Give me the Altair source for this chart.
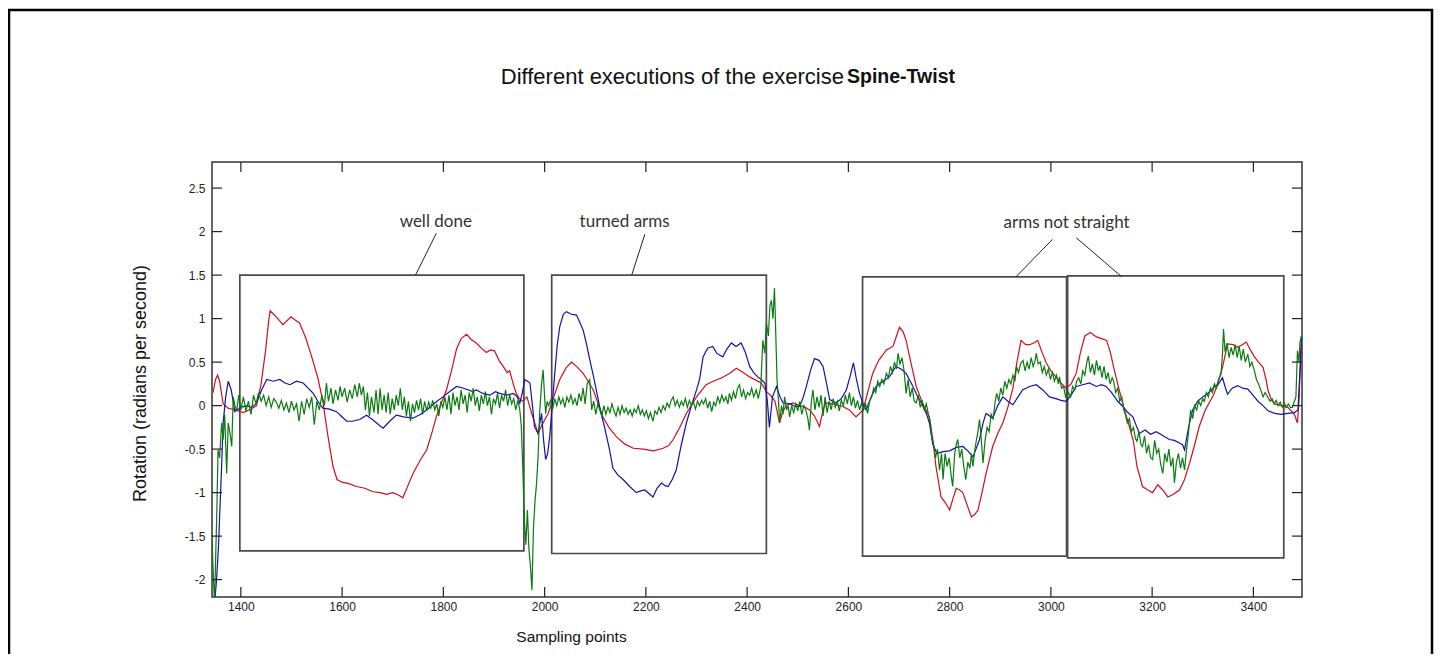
import altair as alt
import pandas as pd

# ---------------- data ----------------
red_x = [1345,1350,1354,1358,1365,1375,1390,1405,1420,1431,1440,1449,1455,1458,1470,1483,1499,1508,1516,1528,
         1540,1552,1562,1572,1582,1590,1600,1615,1628,1645,1661,1675,1688,1700,1712,1720,1730,1740,1755,1767,
         1778,1786,1796,1806,1816,1826,1835,1846,1855,1865,1875,1885,1893,1901,1910,1918,1926,1931,1938,1944,
         1950,1957,1965,1975,1987,1995,2007,2018,2030,2042,2053,2065,2076,2086,2096,2106,2115,2128,2142,2158,
         2175,2195,2215,2234,2245,2254,2267,2280,2300,2319,2333,2350,2365,2379,2392,2405,2418,2428,2438,2446,
         2455,2464,2470,2477,2490,2504,2515,2523,2533,2543,2550,2556,2570,2589,2602,2615,2629,2638,2648,2660,
         2675,2688,2695,2701,2708,2714,2724,2734,2747,2760,2767,2773,2783,2792,2800,2806,2813,2820,2826,2835,
         2843,2850,2856,2864,2872,2885,2895,2905,2915,2925,2933,2941,2950,2958,2966,2974,2982,2991,3000,3010,
         3020,3030,3040,3050,3058,3067,3078,3090,3100,3110,3118,3124,3134,3144,3153,3163,3170,3181,3191,3201,
         3211,3221,3231,3242,3254,3264,3274,3284,3293,3305,3322,3332,3339,3349,3360,3369,3378,3386,3394,3402,
         3410,3419,3425,3429,3436,3442,3455,3468,3481,3487,3490,3492,3495]
red_y = [0.15,0.30,0.35,0.28,0.02,-0.03,-0.05,-0.08,-0.04,0.00,0.25,0.64,0.98,1.09,1.02,0.93,1.02,0.98,0.95,0.78,
         0.56,0.32,0.05,-0.35,-0.70,-0.85,-0.88,-0.90,-0.93,-0.95,-0.99,-1.00,-1.02,-1.00,-1.03,-1.06,-0.92,-0.78,-0.62,-0.51,
         -0.30,-0.13,0.03,0.18,0.40,0.65,0.77,0.82,0.76,0.72,0.66,0.61,0.64,0.63,0.52,0.45,0.38,0.40,0.25,0.14,
         0.08,0.05,0.10,-0.10,-0.32,-0.22,-0.09,0.10,0.30,0.43,0.50,0.44,0.37,0.28,0.18,0.02,-0.13,-0.26,-0.36,-0.44,
         -0.49,-0.50,-0.52,-0.49,-0.46,-0.39,-0.25,-0.09,0.10,0.24,0.28,0.32,0.37,0.43,0.38,0.33,0.29,0.26,0.16,0.12,
         0.05,-0.20,-0.08,0.00,0.03,0.00,-0.02,-0.05,-0.12,-0.24,-0.05,0.03,0.02,-0.01,-0.05,-0.13,-0.05,0.15,0.37,0.52,
         0.64,0.68,0.80,0.90,0.85,0.75,0.48,0.22,0.02,-0.13,-0.40,-0.70,-1.05,-1.12,-1.20,-1.08,-0.95,-0.97,-1.00,-1.15,
         -1.28,-1.25,-1.20,-1.00,-0.78,-0.47,-0.32,-0.20,-0.02,0.20,0.50,0.75,0.70,0.70,0.72,0.75,0.62,0.49,0.40,0.33,
         0.26,0.20,0.25,0.37,0.60,0.80,0.84,0.79,0.77,0.75,0.60,0.44,0.20,-0.02,-0.20,-0.41,-0.70,-0.93,-0.97,-1.00,
         -0.91,-0.97,-1.05,-1.02,-0.97,-0.85,-0.66,-0.45,-0.24,-0.05,0.13,0.30,0.44,0.71,0.70,0.67,0.70,0.73,0.64,0.56,
         0.50,0.44,0.30,0.17,0.06,0.02,0.00,-0.02,-0.10,-0.20,0.05,0.36,0.70]

blue_x = [1345,1352,1356,1358,1362,1365,1370,1375,1381,1388,1400,1411,1421,1431,1441,1451,1464,1477,1487,1497,
          1510,1523,1533,1543,1552,1562,1575,1589,1598,1609,1620,1635,1648,1660,1672,1681,1694,1707,1722,1740,
          1755,1767,1783,1799,1812,1826,1840,1858,1865,1878,1892,1903,1911,1925,1938,1946,1951,1956,1961,1966,
          1971,1976,1980,1987,1994,1998,2002,2006,2010,2015,2020,2025,2030,2037,2043,2053,2063,2070,2076,2083,
          2089,2096,2102,2110,2118,2128,2135,2145,2155,2168,2181,2190,2198,2206,2214,2222,2231,2238,2244,2252,
          2260,2270,2280,2290,2300,2306,2313,2322,2332,2340,2352,2360,2369,2378,2388,2396,2405,2413,2421,2428,
          2435,2440,2444,2450,2458,2465,2471,2485,2495,2504,2511,2517,2525,2533,2542,2550,2557,2563,2576,2586,
          2596,2604,2610,2616,2622,2629,2635,2645,2655,2668,2681,2694,2704,2714,2724,2734,2744,2754,2760,2767,
          2775,2787,2800,2813,2826,2836,2846,2852,2859,2866,2872,2879,2885,2895,2905,2915,2925,2935,2944,2958,
          2971,2984,2997,3010,3020,3030,3040,3050,3063,3076,3090,3100,3109,3120,3132,3142,3152,3162,3170,3175,
          3186,3197,3208,3220,3234,3244,3254,3260,3264,3272,3280,3290,3300,3310,3322,3330,3339,3345,3349,3358,
          3369,3379,3389,3399,3409,3419,3429,3442,3455,3468,3481,3488,3492,3495]
blue_y = [-2.50,-2.00,-1.60,-1.28,-0.70,-0.20,0.10,0.28,0.18,-0.07,-0.02,0.00,-0.02,0.03,0.18,0.30,0.28,0.30,0.26,0.24,
          0.28,0.26,0.20,0.14,0.05,-0.03,-0.04,-0.07,-0.12,-0.18,-0.18,-0.16,-0.11,-0.16,-0.22,-0.26,-0.18,-0.11,-0.13,-0.145,
          -0.10,-0.05,0.03,0.10,0.16,0.22,0.20,0.16,0.18,0.14,0.12,0.16,0.14,0.12,0.14,0.10,0.03,0.15,0.30,0.28,
          0.26,0.00,-0.24,-0.32,-0.09,-0.40,-0.62,-0.55,-0.36,0.00,0.37,0.70,0.91,1.05,1.08,1.05,1.04,0.95,0.87,0.70,
          0.53,0.35,0.18,-0.05,-0.24,-0.50,-0.72,-0.80,-0.85,-0.93,-1.00,-0.98,-0.97,-1.01,-1.05,-0.95,-0.89,-0.92,-0.93,-0.85,
          -0.74,-0.45,-0.20,0.00,0.18,0.30,0.56,0.66,0.68,0.60,0.56,0.65,0.72,0.68,0.72,0.62,0.45,0.38,0.33,0.30,
          0.26,0.05,-0.25,0.10,0.22,0.10,0.03,0.02,-0.01,-0.01,0.10,0.22,0.40,0.54,0.52,0.45,0.25,0.07,0.03,0.08,
          0.18,0.35,0.49,0.30,0.14,0.02,-0.05,0.10,0.22,0.28,0.33,0.45,0.42,0.37,0.26,0.14,0.03,-0.09,-0.20,-0.45,
          -0.55,-0.53,-0.52,-0.48,-0.47,-0.52,-0.59,-0.50,-0.39,-0.20,-0.09,-0.12,-0.145,0.00,0.10,0.05,0.01,0.10,0.18,0.22,
          0.24,0.18,0.10,0.08,0.06,0.05,0.12,0.22,0.24,0.26,0.22,0.24,0.22,0.15,0.05,-0.01,-0.08,-0.13,-0.25,-0.32,
          -0.28,-0.33,-0.30,-0.34,-0.39,-0.40,-0.43,-0.45,-0.51,-0.25,-0.05,0.05,0.10,0.14,0.21,0.24,0.32,0.20,0.13,0.20,
          0.23,0.20,0.19,0.12,0.05,0.00,-0.06,-0.09,-0.10,-0.09,-0.08,-0.05,0.40,0.80]

green_x = [1343,1346,1348,1350,1352,1355,1358,1362,1365,1368,1372,1375,1378,1382,1385,1389,1392,1396,
           1400,1405,1410,1415,1420,1425,1430,1435,1440,1445,1450,1455,1460,1465,1470,1475,1480,1485,1490,1495,
           1500,1505,1510,1515,1520,1525,1530,1535,1540,1545,1550,1555,1560,
           1565,1569,1573,1578,1582,1587,1592,1596,1600,1605,1610,1615,1620,1625,1630,1634,1638,1642,1646,1650,1654,1658,
           1663,1667,1671,1675,1679,1683,1687,1691,1695,1699,1703,1707,1711,1715,1719,1723,1727,1731,1735,1739,
           1743,1747,1751,1755,1759,1763,1767,1771,1775,1779,1783,1787,1791,1795,1799,1803,
           1807,1811,1815,1819,1823,1827,1831,1835,1839,1843,1847,1851,1855,1859,1863,1867,1871,1875,1879,1883,
           1887,1891,1895,1899,1903,1907,1911,1915,1919,1923,1927,1931,1935,1939,1943,1947,1951,1954,1957,1960,
           1963,1966,1969,1972,1975,1978,1981,1984,1987,1990,1994,1997,2000,2002,2005,2008,
           2012,2016,2020,2024,2028,2032,2036,2040,2044,2048,2052,2056,2060,2064,2068,2072,2076,2080,2084,2089,
           2093,2097,2101,2105,2109,
           2113,2117,2121,2125,2129,2133,2137,2141,2145,2149,2153,2157,2161,2165,2169,2173,2177,2181,2185,2189,
           2193,2197,2201,2205,2209,2214,2218,2222,2226,2230,2234,2238,2242,2246,2250,2254,2258,2262,
           2266,2270,2274,2278,2282,2286,2290,2294,2298,2302,2306,2310,2314,2318,2322,2326,2330,2334,2338,2342,
           2346,2350,2354,2358,2362,2365,2369,2373,2377,2381,2385,2389,2393,2397,2401,2405,2409,2413,2418,2422,
           2427,2431,2435,2438,2442,2445,2448,2451,2454,2456,2459,2462,2464,2468,2471,2474,2478,2481,2484,
           2488,2492,2496,2500,2504,2508,2512,2516,2520,2523,2527,2530,2534,2538,2542,2546,2550,2554,2558,2562,
           2566,2570,2574,2578,2582,2586,2590,2594,2598,2602,2606,2610,2614,2618,2622,2626,2630,2634,2638,2642,
           2646,2650,2654,2658,2662,2666,2670,2675,2679,2683,2687,2691,2695,2698,2702,2706,2710,2714,2718,2722,
           2726,2730,2734,2738,2742,2746,2750,2754,2758,2762,2765,2768,2772,2776,2780,2784,2787,2791,2795,2799,
           2803,2806,2810,2813,2816,2820,2824,2828,2832,2836,2840,2843,2846,2850,2853,2856,2859,2862,2866,2870,
           2874,2878,2882,2886,2890,2893,2897,2901,2905,2909,2913,2917,2921,2925,2929,2932,2936,2940,2945,2949,
           2953,2957,2961,2965,2969,2971,2975,2979,2983,2987,2991,2995,2999,3003,3007,3011,3015,3017,3021,3025,
           3029,3031,3035,3039,3043,3047,3051,3055,3059,3063,3067,3071,3074,3078,3082,3086,3090,3094,3097,3101,
           3105,3109,3113,3117,3121,3124,3128,3132,3136,3140,3144,3147,3151,3155,3159,3163,3167,3170,3174,3178,
           3181,3185,3189,3193,3197,3201,3205,3209,3213,3217,3221,3225,3229,3233,3237,3241,3244,3248,3252,3256,
           3260,3264,3268,3272,3276,3280,3284,3288,3292,3296,3300,3303,3307,3311,3315,3319,3323,3327,3331,3336,
           3339,3341,3344,3348,3352,3356,3360,3364,3368,3372,3376,3380,3384,3389,3393,3397,3402,3406,3410,3415,
           3419,3423,3429,3433,3437,3441,3445,3449,3453,3457,3461,3465,3469,3473,3477,3481,3484,3487,3490,3492,3495]
green_y = [-1.54,-2.00,-2.30,-1.80,-1.35,-0.51,-0.60,-0.20,-0.39,-0.10,-0.78,-0.20,-0.30,-0.47,0.10,-0.02,-0.05,0.12,
           -0.05,0.10,-0.06,0.05,-0.10,0.12,0.02,0.15,0.05,0.12,0.00,0.10,-0.02,0.08,0.04,-0.03,0.06,-0.05,0.03,-0.08,
           0.05,-0.05,0.02,-0.18,0.05,-0.10,0.08,-0.02,0.10,-0.22,0.05,-0.05,0.12,
           0.00,0.26,0.05,0.20,0.02,0.18,0.06,0.22,0.10,0.20,0.04,0.18,0.08,0.24,0.10,0.26,0.12,0.22,-0.05,0.15,-0.12,0.10,
           -0.08,0.18,-0.10,0.20,-0.05,0.12,-0.08,0.15,-0.10,0.08,-0.05,0.12,0.00,0.20,-0.05,0.10,-0.12,0.05,-0.18,0.02,
           -0.08,0.06,-0.05,0.08,-0.10,0.05,-0.06,0.04,-0.03,0.06,-0.05,0.02,-0.12,0.05,-0.02,0.10,
           -0.05,0.12,-0.10,0.15,0.00,0.10,-0.05,0.18,0.02,0.12,-0.08,0.15,0.05,0.20,0.00,0.10,-0.06,0.12,0.02,0.16,
           0.00,0.10,-0.10,0.08,0.02,0.14,-0.03,0.12,0.05,0.18,0.00,0.12,0.02,0.08,-0.05,0.06,-0.05,-0.24,-0.74,-1.30,
           -1.60,-1.20,-1.65,-1.85,-2.12,-1.40,-1.10,-0.90,-0.60,-0.10,0.25,0.41,0.10,-0.09,0.05,0.00,
           0.06,-0.04,0.08,0.00,0.10,0.02,0.08,-0.02,0.10,0.04,0.12,0.02,0.08,0.00,0.14,0.05,0.20,0.02,0.25,0.30,
           -0.05,0.05,-0.10,0.02,-0.05,
           -0.12,0.00,-0.10,-0.02,-0.08,0.02,-0.06,-0.12,-0.02,-0.10,0.00,-0.08,-0.03,-0.10,-0.05,-0.12,-0.04,-0.08,0.00,-0.10,
           -0.05,-0.12,-0.06,-0.15,-0.08,-0.18,-0.06,-0.10,-0.02,-0.08,0.00,-0.05,0.03,-0.02,0.06,0.10,0.00,0.06,
           -0.02,0.05,0.00,0.08,-0.02,0.06,0.00,0.04,-0.04,0.05,0.00,0.06,0.02,0.08,-0.03,0.05,-0.07,0.04,0.00,0.10,
           0.03,0.12,0.05,0.10,0.02,0.14,0.06,0.16,0.08,0.20,0.24,0.10,0.18,0.08,0.15,0.12,0.20,0.10,0.18,0.08,
           0.22,0.75,0.60,0.95,0.80,1.15,1.21,1.00,1.35,0.95,0.30,0.05,-0.20,0.00,-0.10,0.10,-0.05,0.00,-0.13,
           0.00,-0.08,0.02,-0.06,0.05,-0.10,0.00,-0.05,-0.15,-0.28,0.05,0.18,-0.05,0.10,-0.02,0.12,-0.12,0.10,-0.08,0.05,
           -0.05,0.08,-0.02,0.05,-0.06,0.06,0.00,0.12,0.02,0.15,0.00,0.10,-0.03,0.06,-0.05,0.03,-0.05,0.02,-0.09,0.05,
           0.10,0.20,0.15,0.28,0.22,0.30,0.25,0.37,0.32,0.45,0.38,0.50,0.42,0.60,0.48,0.55,0.40,0.14,0.30,0.10,
           0.20,0.05,0.03,0.12,-0.02,0.05,-0.05,0.02,-0.10,-0.20,-0.39,-0.43,-0.60,-0.50,-0.74,-0.55,-0.85,-0.55,-0.70,-0.60,
           -0.80,-0.93,-0.55,-0.45,-0.39,-0.60,-0.50,-0.70,-0.85,-0.65,-0.72,-0.55,-0.70,-0.50,-0.39,-0.30,-0.16,-0.35,-0.66,-0.40,
           -0.25,-0.30,-0.10,-0.15,0.05,0.14,0.05,0.20,0.12,0.28,0.20,0.30,0.25,0.35,0.28,0.45,0.38,0.48,0.52,0.40,
           0.50,0.42,0.55,0.45,0.52,0.60,0.48,0.50,0.38,0.45,0.35,0.42,0.30,0.38,0.28,0.35,0.25,0.33,0.20,0.22,
           0.10,0.09,0.15,0.10,0.22,0.18,0.28,0.32,0.25,0.40,0.35,0.50,0.57,0.38,0.48,0.35,0.52,0.40,0.46,0.32,
           0.45,0.30,0.38,0.25,0.32,0.28,0.15,0.20,0.05,0.10,-0.05,-0.10,-0.20,-0.15,-0.30,-0.25,-0.38,-0.41,-0.30,-0.45,
           -0.47,-0.35,-0.55,-0.45,-0.60,-0.62,-0.40,-0.55,-0.50,-0.68,-0.78,-0.55,-0.65,-0.50,-0.70,-0.60,-0.89,-0.65,-0.55,-0.72,
           -0.60,-0.74,-0.50,-0.30,-0.05,-0.15,0.00,-0.05,0.05,0.00,0.08,0.05,0.15,0.10,0.20,0.15,0.25,0.20,0.30,0.36,
           0.60,0.88,0.62,0.72,0.55,0.67,0.58,0.70,0.55,0.68,0.52,0.65,0.50,0.59,0.45,0.50,0.40,0.30,0.25,0.17,
           0.10,0.15,0.09,0.05,0.08,0.02,0.06,0.00,0.04,-0.02,0.03,-0.02,0.02,-0.02,-0.02,0.05,0.10,0.63,0.50,0.73,0.80]

x_ticks = [1400, 1600, 1800, 2000, 2200, 2400, 2600, 2800, 3000, 3200, 3400]
y_ticks = [2.5, 2, 1.5, 1, 0.5, 0, -0.5, -1, -1.5, -2]

box_x1 = [1398, 2014, 2628, 3033]
box_x2 = [1959, 2438, 3031, 3460]
box_y1 = [-1.67, -1.70, -1.73, -1.75]
box_y2 = [1.50, 1.50, 1.48, 1.49]

ann_text = ["well done", "turned arms", "arms not straight"]
ann_x = [1785, 2158, 3031]
ann_y = [2.11, 2.11, 2.10]

lead_x1 = [1786, 2198, 3003, 3050]
lead_y1 = [1.98, 1.97, 1.91, 1.93]
lead_x2 = [1745, 2172, 2931, 3140]
lead_y2 = [1.50, 1.50, 1.48, 1.48]

title_main = "Different executions of the exercise "
title_bold = "Spine-Twist"
x_title = "Sampling points"
y_title = "Rotation (radians per second)"

# ---------------- chart ----------------
W, H = 1090, 435
xs = alt.Scale(domain=[1343, 3496], nice=False, zero=False)
ys = alt.Scale(domain=[-2.2, 2.8], nice=False, zero=False)
FONT = "Liberation Sans"

boxes = pd.DataFrame({"x1": box_x1, "x2": box_x2, "y1": box_y1, "y2": box_y2})
box_layer = alt.Chart(boxes).mark_rect(filled=False, stroke="#4a4a4a", strokeWidth=1.7).encode(
    x=alt.X("x1:Q", scale=xs, axis=alt.Axis(
        values=x_ticks, format="d", ticks=False, domain=False, grid=False,
        labelFont=FONT, labelFontSize=12, labelColor="#222222", labelPadding=4,
        title=x_title, titleFont=FONT, titleFontSize=15.5, titleFontWeight="normal",
        titleColor="#111111", titleX=359, titleY=39, titleAlign="center", titleBaseline="middle")),
    x2="x2:Q",
    y=alt.Y("y1:Q", scale=ys, axis=alt.Axis(
        values=y_ticks, labelExpr="'' + datum.value", ticks=False, domain=False, grid=False,
        labelFont=FONT, labelFontSize=12, labelColor="#222222", labelPadding=7,
        title=y_title, titleFont=FONT, titleFontSize=18, titleFontWeight="normal",
        titleColor="#111111", titleX=-72, titleY=221, titleAlign="center",
        titleBaseline="middle", titleAngle=270)),
    y2="y2:Q",
)


def series(xv, yv, color):
    df = pd.DataFrame({"x": xv, "y": yv})
    return alt.Chart(df).mark_line(color=color, strokeWidth=1.2, clip=True).encode(
        x=alt.X("x:Q", scale=xs), y=alt.Y("y:Q", scale=ys))


red = series(red_x, red_y, "#d0101c")
blue = series(blue_x, blue_y, "#1212a8")
green = series(green_x, green_y, "#0b7a10")

xt = pd.DataFrame({"x": x_ticks})
yt = pd.DataFrame({"y": y_ticks})
tick_style = dict(color="#222222", strokeWidth=1.2)
ticks_bottom = alt.Chart(xt).mark_rule(**tick_style).encode(
    x=alt.X("x:Q", scale=xs), y=alt.value(H), y2=alt.value(H - 10))
ticks_top = alt.Chart(xt).mark_rule(**tick_style).encode(
    x=alt.X("x:Q", scale=xs), y=alt.value(0), y2=alt.value(10))
ticks_left = alt.Chart(yt).mark_rule(**tick_style).encode(
    y=alt.Y("y:Q", scale=ys), x=alt.value(0), x2=alt.value(10))
ticks_right = alt.Chart(yt).mark_rule(**tick_style).encode(
    y=alt.Y("y:Q", scale=ys), x=alt.value(W), x2=alt.value(W - 10))

leads = pd.DataFrame({"x1": lead_x1, "y1": lead_y1, "x2": lead_x2, "y2": lead_y2})
lead_layer = alt.Chart(leads).mark_rule(color="#222222", strokeWidth=1).encode(
    x=alt.X("x1:Q", scale=xs), y=alt.Y("y1:Q", scale=ys), x2="x2:Q", y2="y2:Q")

anns = pd.DataFrame({"t": ann_text, "x": ann_x, "y": ann_y})
ann_layer = alt.Chart(anns).mark_text(font="Lato", fontSize=17, color="#333333",
                                      align="center", baseline="middle").encode(
    x=alt.X("x:Q", scale=xs), y=alt.Y("y:Q", scale=ys), text="t:N")

one = pd.DataFrame({"a": [0]})
title1 = alt.Chart(one).mark_text(font=FONT, fontSize=22, color="#111111", align="right",
                                  baseline="middle").encode(
    x=alt.value(632), y=alt.value(-85), text=alt.value(title_main))
title2 = alt.Chart(one).mark_text(font=FONT, fontSize=19.5, fontWeight="bold", color="#111111",
                                  align="left", baseline="middle").encode(
    x=alt.value(635), y=alt.value(-85), text=alt.value(title_bold))

border = alt.Chart(one).mark_rect(filled=False, stroke="#000000", strokeWidth=2.5).encode(
    x=alt.value(-203), x2=alt.value(1220), y=alt.value(-152), y2=alt.value(540))

chart = alt.layer(
    box_layer, red, blue, green, ticks_bottom, ticks_top, ticks_left, ticks_right,
    lead_layer, ann_layer, title1, title2, border
).properties(
    width=W, height=H,
    autosize="none",
    padding={"left": 204, "top": 154, "right": 132, "bottom": 57},
    background="white",
).configure_view(stroke="#333333", strokeWidth=1.5)

chart.save("out.html", embed_options={"renderer": "svg", "actions": False})
